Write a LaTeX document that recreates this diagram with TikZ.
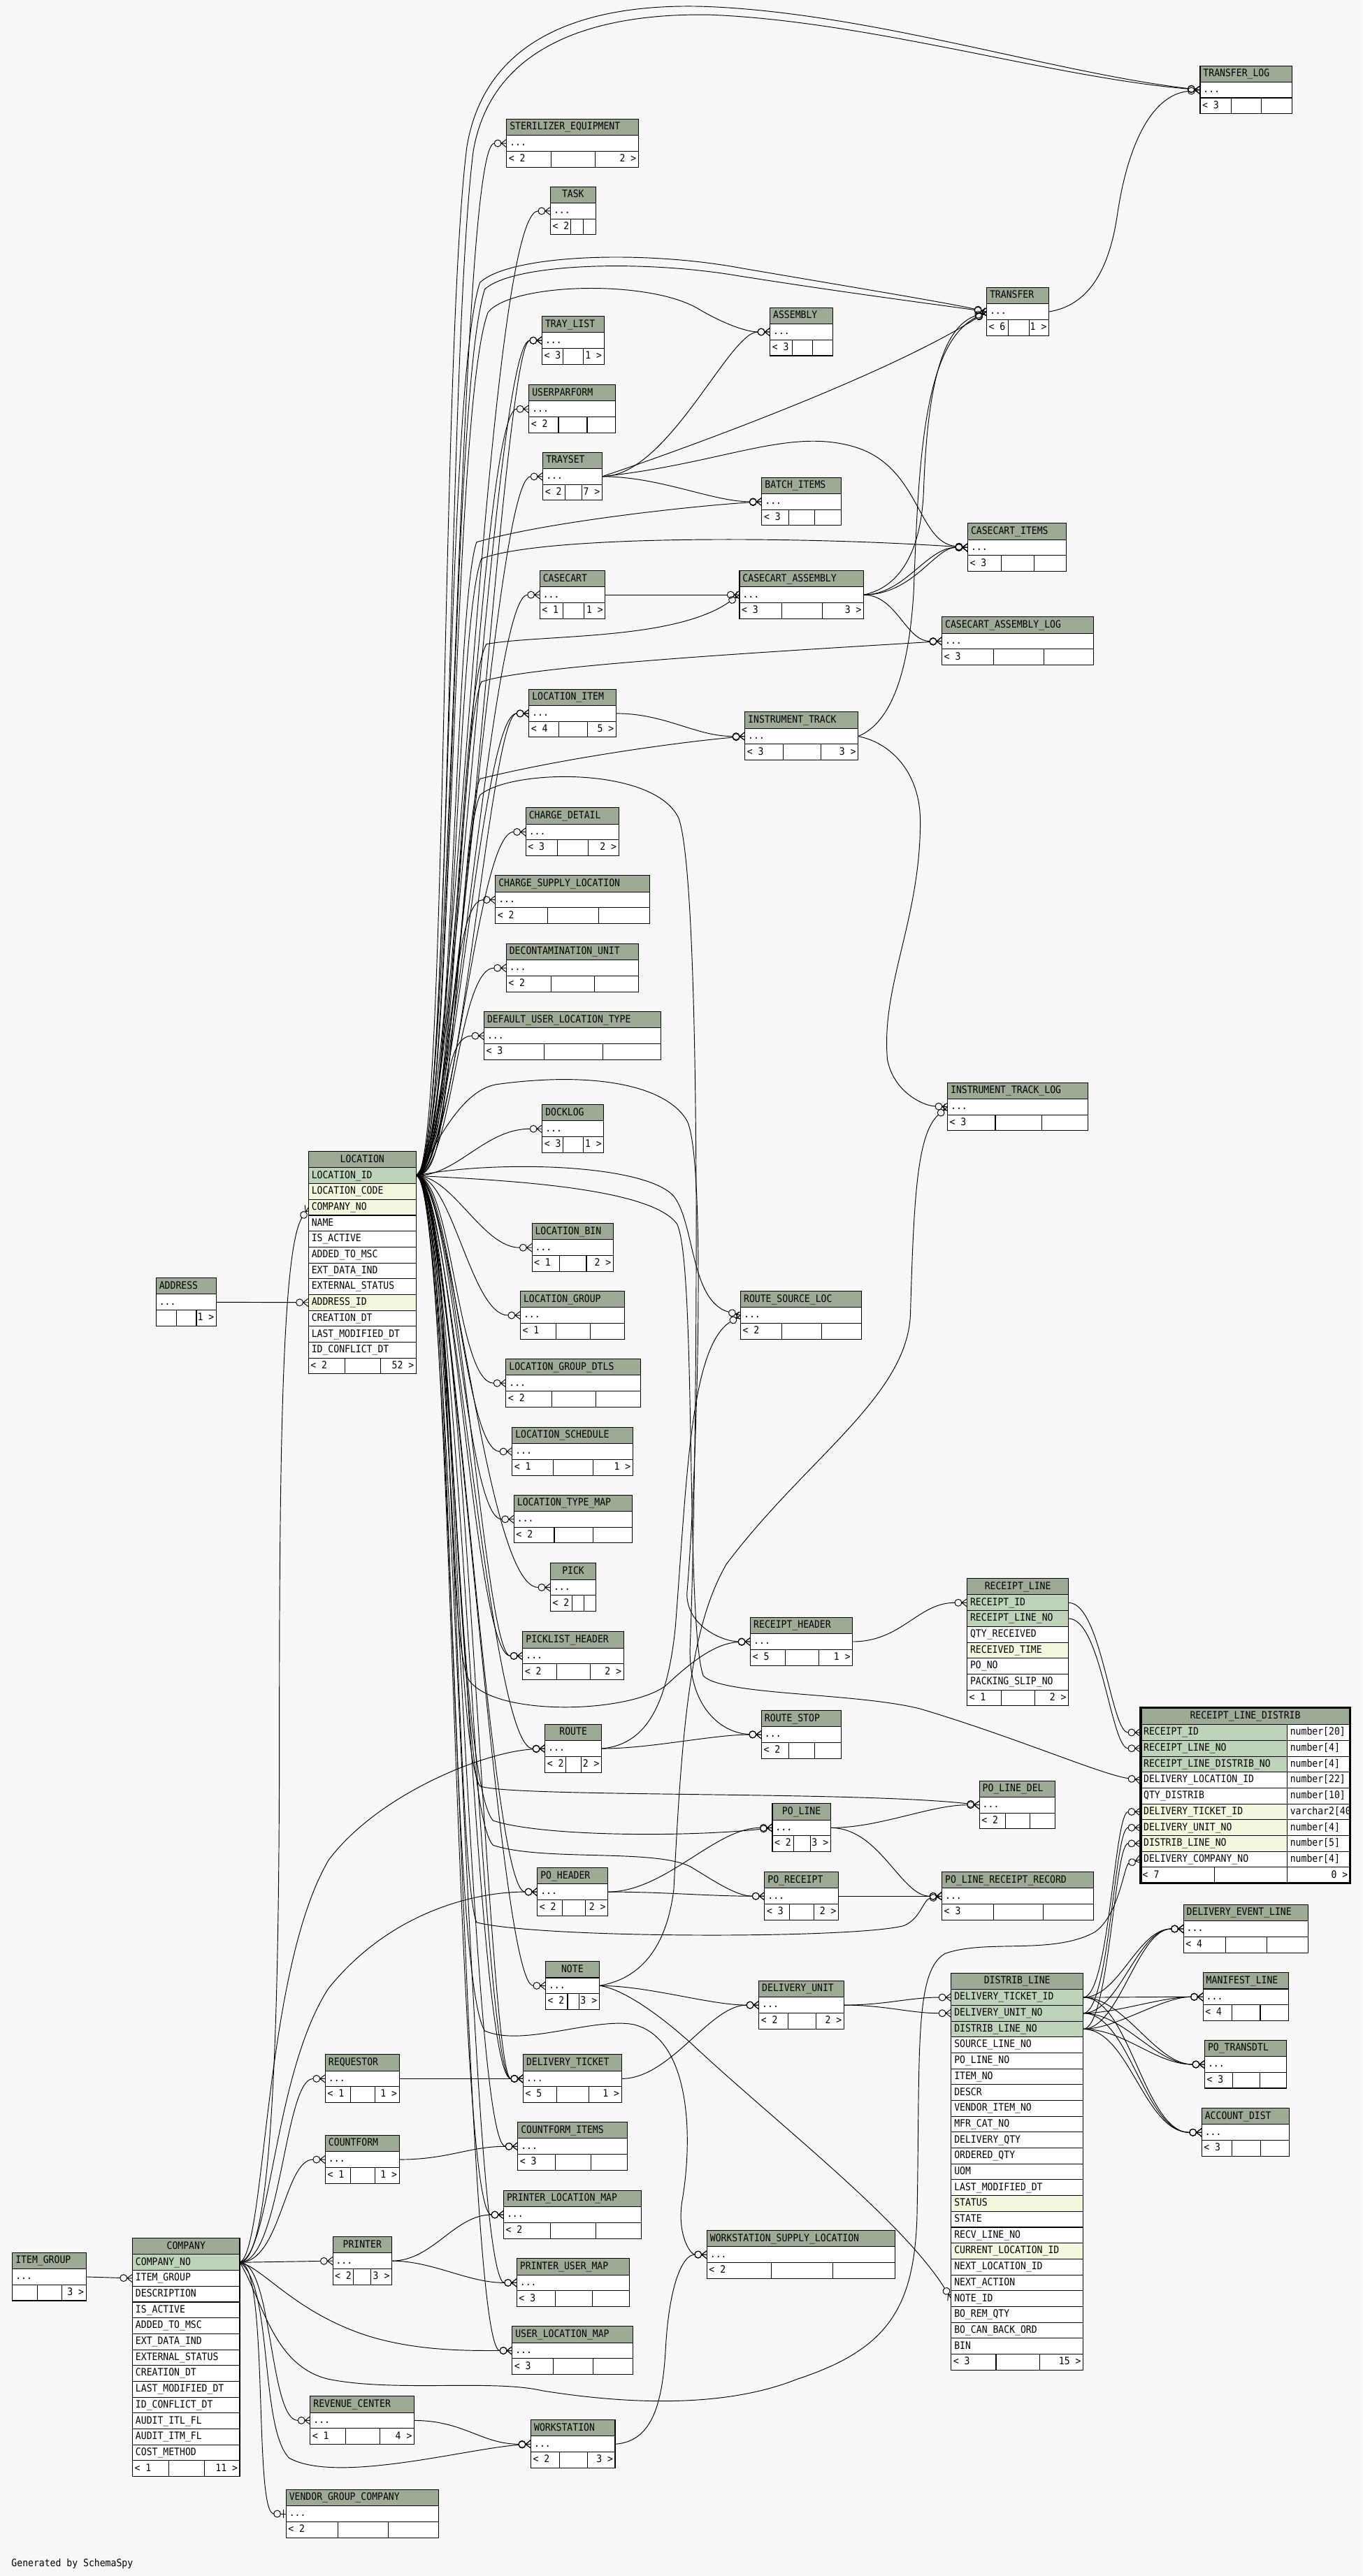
\documentclass[tikz,border=0pt]{standalone}
\usepackage{fontspec}
\newfontfamily\tblfont[FakeStretch=0.9]{DejaVu Sans Mono}
\usetikzlibrary{calc,arrows.meta}
\definecolor{hdrgreen}{RGB}{157,171,150}
\definecolor{pkgreen}{RGB}{191,211,187}
\definecolor{ixyellow}{RGB}{244,247,221}
\definecolor{bggray}{RGB}{247,247,247}
\newdimen\crowtmp
% zero-or-many end: circle and crow's foot
\pgfdeclarearrow{
  name = ZeroMany,
  parameters = {\the\pgfarrowlength,\the\pgfarrowwidth,\the\pgfarrowinset},
  setup code = {
    \crowtmp=\pgfarrowlength
    \advance\crowtmp by 2\pgfarrowinset
    \pgfarrowssettipend{0pt}
    \pgfarrowssetbackend{-\crowtmp}
    \pgfarrowssetlineend{-\crowtmp}
    \pgfarrowshullpoint{0pt}{.5\pgfarrowwidth}
    \pgfarrowshullpoint{0pt}{-.5\pgfarrowwidth}
    \pgfarrowshullpoint{-\crowtmp}{\pgfarrowinset}
    \pgfarrowshullpoint{-\crowtmp}{-\pgfarrowinset}
    \pgfarrowssavethe\pgfarrowlength
    \pgfarrowssavethe\pgfarrowwidth
    \pgfarrowssavethe\pgfarrowinset
  },
  drawing code = {
    \pgfsetdash{}{0pt}
    \pgfpathmoveto{\pgfqpoint{0pt}{.5\pgfarrowwidth}}
    \pgfpathlineto{\pgfqpoint{-\pgfarrowlength}{0pt}}
    \pgfpathlineto{\pgfqpoint{0pt}{-.5\pgfarrowwidth}}
    \pgfpathmoveto{\pgfqpoint{-\pgfarrowlength}{0pt}}
    \pgfpathlineto{\pgfqpoint{0pt}{0pt}}
    \pgfusepathqstroke
    \crowtmp=\pgfarrowlength
    \advance\crowtmp by \pgfarrowinset
    \pgfpathcircle{\pgfqpoint{-\crowtmp}{0pt}}{\pgfarrowinset}
    \pgfusepathqstroke
  },
  defaults = {length=3.3pt, width=5pt, inset=2.1pt}
}
% zero-or-one end: circle and bar
\pgfdeclarearrow{
  name = ZeroOne,
  parameters = {\the\pgfarrowlength,\the\pgfarrowwidth,\the\pgfarrowinset},
  setup code = {
    \crowtmp=\pgfarrowlength
    \advance\crowtmp by 2\pgfarrowinset
    \pgfarrowssettipend{0pt}
    \pgfarrowssetbackend{-\crowtmp}
    \pgfarrowssetlineend{-\crowtmp}
    \pgfarrowshullpoint{0pt}{.5\pgfarrowwidth}
    \pgfarrowshullpoint{0pt}{-.5\pgfarrowwidth}
    \pgfarrowshullpoint{-\crowtmp}{\pgfarrowinset}
    \pgfarrowshullpoint{-\crowtmp}{-\pgfarrowinset}
    \pgfarrowssavethe\pgfarrowlength
    \pgfarrowssavethe\pgfarrowwidth
    \pgfarrowssavethe\pgfarrowinset
  },
  drawing code = {
    \pgfsetdash{}{0pt}
    \pgfpathmoveto{\pgfqpoint{-\pgfarrowlength}{0pt}}
    \pgfpathlineto{\pgfqpoint{0pt}{0pt}}
    \pgfpathmoveto{\pgfqpoint{-.5\pgfarrowlength}{.5\pgfarrowwidth}}
    \pgfpathlineto{\pgfqpoint{-.5\pgfarrowlength}{-.5\pgfarrowwidth}}
    \pgfusepathqstroke
    \crowtmp=\pgfarrowlength
    \advance\crowtmp by \pgfarrowinset
    \pgfpathcircle{\pgfqpoint{-\crowtmp}{0pt}}{\pgfarrowinset}
    \pgfusepathqstroke
  },
  defaults = {length=3.3pt, width=5pt, inset=2.1pt}
}
\pgfdeclarelayer{canvas}
\pgfdeclarelayer{links}
\pgfsetlayers{canvas,links,main}
\tikzset{
  hdrbox/.style={draw, fill=hdrgreen, line width=0.45pt, minimum height=9.9pt, inner sep=0pt, outer sep=0pt},
  rowbox/.style={draw, fill=#1, line width=0.45pt, minimum height=9.65pt, inner sep=0pt, outer sep=0pt},
  rowbox/.default=white,
  txt/.style={font=\tblfont\fontsize{6.2}{7}\selectfont, inner xsep=1.7pt, inner ysep=0pt, text height=4.5pt, text depth=1.2pt},
  foottxt/.style={txt, inner xsep=1.1pt},
  tblline/.style={line width=0.45pt},
  fk/.style={line width=0.4pt, -{ZeroMany}},
  fkone/.style={line width=0.4pt, -{ZeroOne}},
  lnk/.style 2 args={out=0, in=180, out distance=#1, in distance=#2},
}
% footer cells: node, left text, right text, two divider fractions
\newcommand{\footcells}[5]{%
  \draw[tblline] ($(#1.north west)!#4!(#1.north east)$) -- ($(#1.south west)!#4!(#1.south east)$);
  \draw[tblline] ($(#1.north west)!#5!(#1.north east)$) -- ($(#1.south west)!#5!(#1.south east)$);
  \node[foottxt, anchor=west] (#1-l) at (#1.west) {#2};
  \node[foottxt, anchor=east] (#1-r) at (#1.east) {#3};}
% collapsed table: name, corner, width, title, footer texts, dividers, title anchor
\newcommand{\tbl}[9]{%
  \node[hdrbox, minimum width=#3pt, anchor=north west] (#1) at (#2) {};
  \node[txt, anchor=#9] (#1-t) at (#1.#9) {#4};
  \node[rowbox, minimum width=#3pt, anchor=north] (#1-b) at (#1.south) {};
  \node[txt, anchor=west] (#1-d) at (#1-b.west) {...};
  \node[rowbox, minimum width=#3pt, anchor=north] (#1-f) at (#1-b.south) {};
  \footcells{#1-f}{#5}{#6}{#7}{#8}}
% expanded table: name, corner, width, title, rows, row count, footer texts
\newcommand{\fulltbl}[8]{%
  \node[hdrbox, minimum width=#3pt, anchor=north west] (#1) at (#2) {};
  \node[txt] (#1-t) at (#1.center) {#4};
  \foreach \col/\kind [count=\i] in {#5} {
    \node[rowbox=\kind, minimum width=#3pt, anchor=north west] (#1-\i) at ($(#1.south west)+(0,{(\i-1)*9.65})$) {};
    \node[txt, anchor=west] (#1-\i-t) at (#1-\i.west) {\col};
  }
  \node[rowbox, minimum width=#3pt, anchor=north west] (#1-f) at ($(#1.south west)+(0,{#6*9.65})$) {};
  \footcells{#1-f}{#7}{#8}{.34}{.67}}

\begin{document}
\begin{tikzpicture}[x=1pt,y=-1pt]
\useasboundingbox (0,0) rectangle (829,1567.8);
\begin{pgfonlayer}{canvas}
  \fill[bggray] (0,0) rectangle (829,1567.8);
\end{pgfonlayer}

%%%%% TABLES %%%%%
\fulltbl{location}{187.7,700.8}{65.5}{LOCATION}{LOCATION\_ID/pkgreen, LOCATION\_CODE/ixyellow, COMPANY\_NO/ixyellow, NAME/white, IS\_ACTIVE/white, ADDED\_TO\_MSC/white, EXT\_DATA\_IND/white, EXTERNAL\_STATUS/white, ADDRESS\_ID/ixyellow, CREATION\_DT/white, LAST\_MODIFIED\_DT/white, ID\_CONFLICT\_DT/white}{12}{< 2}{52 >}
\fulltbl{company}{80.6,1362.2}{65.3}{COMPANY}{COMPANY\_NO/pkgreen, ITEM\_GROUP/white, DESCRIPTION/white, IS\_ACTIVE/white, ADDED\_TO\_MSC/white, EXT\_DATA\_IND/white, EXTERNAL\_STATUS/white, CREATION\_DT/white, LAST\_MODIFIED\_DT/white, ID\_CONFLICT\_DT/white, AUDIT\_ITL\_FL/white, AUDIT\_ITM\_FL/white, COST\_METHOD/white}{13}{< 1}{11 >}
\fulltbl{receiptline}{588.5,960.7}{61.7}{RECEIPT\_LINE}{RECEIPT\_ID/pkgreen, RECEIPT\_LINE\_NO/pkgreen, QTY\_RECEIVED/white, RECEIVED\_TIME/ixyellow, PO\_NO/white, PACKING\_SLIP\_NO/white}{6}{< 1}{2 >}
\fulltbl{distribline}{578.8,1200.9}{80.3}{DISTRIB\_LINE}{DELIVERY\_TICKET\_ID/pkgreen, DELIVERY\_UNIT\_NO/pkgreen, DISTRIB\_LINE\_NO/pkgreen, SOURCE\_LINE\_NO/white, PO\_LINE\_NO/white, ITEM\_NO/white, DESCR/white, VENDOR\_ITEM\_NO/white, MFR\_CAT\_NO/white, DELIVERY\_QTY/white, ORDERED\_QTY/white, UOM/white, LAST\_MODIFIED\_DT/white, STATUS/ixyellow, STATE/white, RECV\_LINE\_NO/white, CURRENT\_LOCATION\_ID/ixyellow, NEXT\_LOCATION\_ID/white, NEXT\_ACTION/white, NOTE\_ID/white, BO\_REM\_QTY/white, BO\_CAN\_BACK\_ORD/white, BIN/white}{23}{< 3}{15 >}

% the focus table, with column types
\begin{scope}
  \clip (694,1039.3) rectangle (821.5,1146.1);
  \node[hdrbox, minimum width=127.5pt, minimum height=10.3pt, anchor=north west] (rld) at (694,1039.3) {};
  \node[txt] (rld-t) at (rld.center) {RECEIPT\_LINE\_DISTRIB};
  \foreach \col/\kind/\typ [count=\i] in {RECEIPT\_ID/pkgreen/{number[20]}, RECEIPT\_LINE\_NO/pkgreen/{number[4]}, RECEIPT\_LINE\_DISTRIB\_NO/pkgreen/{number[4]}, DELIVERY\_LOCATION\_ID/white/{number[22]}, QTY\_DISTRIB/white/{number[10]}, DELIVERY\_TICKET\_ID/ixyellow/{varchar2[40]}, DELIVERY\_UNIT\_NO/ixyellow/{number[4]}, DISTRIB\_LINE\_NO/ixyellow/{number[5]}, DELIVERY\_COMPANY\_NO/white/{number[4]}} {
    \node[rowbox=\kind, minimum width=89.2pt, anchor=north west] (rld-\i) at ($(rld.south west)+(0,{(\i-1)*9.65})$) {};
    \node[txt, anchor=west] (rld-\i-t) at (rld-\i.west) {\col};
    \node[rowbox, minimum width=38.3pt, anchor=west] (rld-\i-y) at (rld-\i.east) {};
    \node[txt, anchor=west] (rld-\i-v) at (rld-\i-y.west) {\typ};
  }
  \node[rowbox, minimum width=127.5pt, anchor=north west] (rld-f) at ($(rld.south west)+(0,{9*9.65})$) {};
  \footcells{rld-f}{< 7}{0 >}{.353}{.70}
\end{scope}
\draw[line width=1.6pt] (rld.north west) rectangle (rld-f.south east);

\tbl{transferlog}{730.3,40.0}{55.8}{TRANSFER\_LOG}{< 3}{}{.34}{.67}{west}
\tbl{sterilizer}{308.3,72.5}{80.2}{STERILIZER\_EQUIPMENT}{< 2}{2 >}{.34}{.67}{west}
\tbl{task}{335.0,113.7}{27.4}{TASK}{< 2}{}{.45}{.73}{center}
\tbl{transfer}{600.4,175.0}{37.8}{TRANSFER}{< 6}{1 >}{.35}{.68}{west}
\tbl{assembly}{468.6,187.3}{38.1}{ASSEMBLY}{< 3}{}{.35}{.68}{west}
\tbl{traylist}{329.9,192.5}{37.6}{TRAY\_LIST}{< 3}{1 >}{.34}{.67}{west}
\tbl{userparform}{321.9,234.2}{52.8}{USERPARFORM}{< 2}{}{.34}{.67}{west}
\tbl{trayset}{330.4,275.3}{36.0}{TRAYSET}{< 2}{7 >}{.37}{.66}{west}
\tbl{batchitems}{463.6,290.6}{48.2}{BATCH\_ITEMS}{< 3}{}{.34}{.67}{west}
\tbl{casecartitems}{588.9,318.5}{60.1}{CASECART\_ITEMS}{< 3}{}{.34}{.67}{west}
\tbl{casecart}{328.5,347.3}{39.8}{CASECART}{< 1}{1 >}{.35}{.67}{west}
\tbl{casecartassembly}{450.0,347.3}{75.5}{CASECART\_ASSEMBLY}{< 3}{3 >}{.34}{.67}{west}
\tbl{ccalog}{573.2,375.5}{92.3}{CASECART\_ASSEMBLY\_LOG}{< 3}{}{.34}{.67}{west}
\tbl{locationitem}{321.9,419.5}{53.0}{LOCATION\_ITEM}{< 4}{5 >}{.34}{.67}{west}
\tbl{instrumenttrack}{453.3,433.4}{68.9}{INSTRUMENT\_TRACK}{< 3}{3 >}{.34}{.67}{west}
\tbl{chargedetail}{320.0,491.6}{56.5}{CHARGE\_DETAIL}{< 3}{2 >}{.34}{.67}{west}
\tbl{chargesupply}{301.5,532.9}{93.8}{CHARGE\_SUPPLY\_LOCATION}{< 2}{}{.34}{.67}{west}
\tbl{decon}{308.1,574.4}{80.3}{DECONTAMINATION\_UNIT}{< 2}{}{.34}{.67}{west}
\tbl{defaultuser}{294.6,615.7}{107.6}{DEFAULT\_USER\_LOCATION\_TYPE}{< 3}{}{.34}{.67}{west}
\tbl{docklog}{330.0,672.3}{37.4}{DOCKLOG}{< 3}{1 >}{.34}{.67}{west}
\tbl{itlog}{576.6,658.9}{85.5}{INSTRUMENT\_TRACK\_LOG}{< 3}{}{.34}{.67}{west}
\tbl{address}{95.0,777.8}{36.6}{ADDRESS}{}{1 >}{.34}{.67}{west}
\tbl{locationbin}{323.7,744.6}{49.5}{LOCATION\_BIN}{< 1}{2 >}{.34}{.67}{west}
\tbl{locationgroup}{316.7,785.8}{63.4}{LOCATION\_GROUP}{< 1}{}{.34}{.67}{west}
\tbl{routesource}{450.7,785.8}{73.6}{ROUTE\_SOURCE\_LOC}{< 2}{}{.34}{.67}{west}
\tbl{locgroupdtls}{307.9,827.1}{81.9}{LOCATION\_GROUP\_DTLS}{< 2}{}{.34}{.67}{west}
\tbl{locschedule}{311.7,868.7}{73.4}{LOCATION\_SCHEDULE}{< 1}{1 >}{.34}{.67}{west}
\tbl{loctypemap}{312.8,909.9}{72.0}{LOCATION\_TYPE\_MAP}{< 2}{}{.34}{.67}{west}
\tbl{pick}{335.0,951.4}{27.6}{PICK}{< 2}{}{.47}{.74}{center}
\tbl{picklist}{318.1,993.1}{61.4}{PICKLIST\_HEADER}{< 2}{2 >}{.34}{.67}{west}
\tbl{receiptheader}{456.7,984.4}{62.1}{RECEIPT\_HEADER}{< 5}{1 >}{.34}{.67}{west}
\tbl{route}{331.7,1049.5}{34.3}{ROUTE}{< 2}{2 >}{.37}{.645}{center}
\tbl{routestop}{463.4,1041.0}{48.4}{ROUTE\_STOP}{< 2}{}{.34}{.67}{west}
\tbl{polinedel}{596.0,1083.8}{46.1}{PO\_LINE\_DEL}{< 2}{}{.34}{.67}{west}
\tbl{poline}{470.0,1097.7}{35.4}{PO\_LINE}{< 2}{3 >}{.37}{.65}{center}
\tbl{poheader}{327.0,1136.7}{42.9}{PO\_HEADER}{< 2}{2 >}{.35}{.68}{west}
\tbl{poreceipt}{465.3,1139.3}{44.9}{PO\_RECEIPT}{< 3}{2 >}{.34}{.67}{west}
\tbl{polrr}{573.2,1139.3}{92.2}{PO\_LINE\_RECEIPT\_RECORD}{< 3}{}{.34}{.67}{west}
\tbl{deliveryeventline}{720.2,1159.2}{75.8}{DELIVERY\_EVENT\_LINE}{< 4}{}{.34}{.67}{west}
\tbl{note}{332.0,1193.8}{32.6}{NOTE}{< 2}{3 >}{.41}{.62}{center}
\tbl{deliveryunit}{461.8,1205.6}{51.7}{DELIVERY\_UNIT}{< 2}{2 >}{.34}{.67}{west}
\tbl{manifestline}{732.1,1200.6}{51.9}{MANIFEST\_LINE}{< 4}{}{.34}{.67}{west}
\tbl{potransdtl}{733.1,1241.7}{49.8}{PO\_TRANSDTL}{< 3}{}{.34}{.67}{west}
\tbl{accountdist}{731.3,1283.1}{53.4}{ACCOUNT\_DIST}{< 3}{}{.34}{.67}{west}
\tbl{requestor}{198.0,1250.4}{44.9}{REQUESTOR}{< 1}{1 >}{.34}{.67}{west}
\tbl{deliveryticket}{318.4,1250.4}{59.8}{DELIVERY\_TICKET}{< 5}{1 >}{.34}{.67}{west}
\tbl{countformitems}{315.1,1291.6}{66.7}{COUNTFORM\_ITEMS}{< 3}{}{.34}{.67}{west}
\tbl{countform}{198.0,1299.6}{44.9}{COUNTFORM}{< 1}{1 >}{.34}{.67}{west}
\tbl{printerlocmap}{306.5,1333.2}{83.6}{PRINTER\_LOCATION\_MAP}{< 2}{}{.34}{.67}{west}
\tbl{itemgroup}{7.6,1371.0}{44.8}{ITEM\_GROUP}{}{3 >}{.34}{.67}{west}
\tbl{printer}{202.5,1361.3}{35.9}{PRINTER}{< 2}{3 >}{.35}{.65}{center}
\tbl{printerusermap}{314.5,1374.6}{68.4}{PRINTER\_USER\_MAP}{< 3}{}{.34}{.67}{west}
\tbl{wsl}{430.2,1357.5}{114.6}{WORKSTATION\_SUPPLY\_LOCATION}{< 2}{}{.34}{.67}{west}
\tbl{userlocmap}{311.7,1415.9}{73.5}{USER\_LOCATION\_MAP}{< 3}{}{.34}{.67}{west}
\tbl{revenuecenter}{188.8,1458.4}{63.2}{REVENUE\_CENTER}{< 1}{4 >}{.34}{.67}{west}
\tbl{workstation}{323.1,1472.8}{51.2}{WORKSTATION}{< 2}{3 >}{.34}{.67}{west}
\tbl{vendorgroup}{174.1,1515.2}{92.8}{VENDOR\_GROUP\_COMPANY}{< 2}{}{.34}{.67}{west}

\node[txt, anchor=west] (credit) at (5.1,1560.2) {Generated by SchemaSpy};

%%%%% LINKS %%%%%
\begin{pgfonlayer}{links}
% from LOCATION.LOCATION_ID
\draw[fk] (location-1.east) .. controls (272,715) and (268,220) .. (284,90) .. controls (296,15) and (370,2) .. (430,4) .. controls (530,8) and (640,44) .. (transferlog-b.west);
\draw[fk] (location-1.east) .. controls (274,715) and (272,220) .. (288,92) .. controls (300,22) and (372,8) .. (432,9) .. controls (530,13) and (640,47) .. (transferlog-b.west);
\draw[fk] (location-1.east) to[lnk={22pt}{30pt}] (sterilizer-b.west);
\draw[fk] (location-1.east) to[lnk={22pt}{40pt}] (task-b.west);
\draw[fk] (location-1.east) .. controls (274,715) and (270,240) .. (292,172) .. controls (310,155) and (390,152) .. (450,163) .. controls (520,175) and (575,184) .. (transfer-b.west);
\draw[fk] (location-1.east) .. controls (276,715) and (273,245) .. (295,176) .. controls (313,160) and (392,158) .. (450,168) .. controls (520,179) and (575,186) .. (transfer-b.west);
\draw[fk] (location-1.east) .. controls (276,715) and (274,250) .. (297,190) .. controls (312,172) and (395,170) .. (425,188) .. controls (442,198) and (455,202) .. (assembly-b.west);
\draw[fk] (location-1.east) to[lnk={22pt}{30pt}] (traylist-b.west);
\draw[fk] (location-1.east) to[lnk={26pt}{24pt}] (traylist-b.west);
\draw[fk] (location-1.east) to[lnk={22pt}{30pt}] (userparform-b.west);
\draw[fk] (location-1.east) to[lnk={22pt}{30pt}] (trayset-b.west);
\draw[fk] (location-1.east) .. controls (276,715) and (276,370) .. (290,330) .. controls (330,318) and (420,308) .. (batchitems-b.west);
\draw[fk] (location-1.east) .. controls (276,715) and (277,380) .. (293,340) .. controls (330,326) and (480,326) .. (casecartitems-b.west);
\draw[fk] (location-1.east) to[lnk={22pt}{30pt}] (casecart-b.west);
\draw[fk] (location-1.east) .. controls (277,715) and (278,425) .. (296,392) .. controls (330,386) and (410,390) .. (casecartassembly-b.west);
\draw[fk] (location-1.east) .. controls (277,715) and (279,445) .. (293,415) .. controls (320,405) and (480,396) .. (ccalog-b.west);
\draw[fk] (location-1.east) to[lnk={22pt}{30pt}] (locationitem-b.west);
\draw[fk] (location-1.east) to[lnk={26pt}{24pt}] (locationitem-b.west);
\draw[fk] (location-1.east) .. controls (278,715) and (280,505) .. (292,474) .. controls (340,462) and (410,452) .. (instrumenttrack-b.west);
\draw[fk] (location-1.east) to[lnk={22pt}{30pt}] (chargedetail-b.west);
\draw[fk] (location-1.east) to[lnk={22pt}{30pt}] (chargesupply-b.west);
\draw[fk] (location-1.east) to[lnk={22pt}{30pt}] (decon-b.west);
\draw[fk] (location-1.east) to[lnk={22pt}{30pt}] (defaultuser-b.west);
\draw[fk] (location-1.east) to[lnk={25pt}{35pt}] (docklog-b.west);
\draw[fk] (location-1.east) .. controls (278,715) and (278,520) .. (292,484) .. controls (310,468) and (398,466) .. (413,498) .. controls (428,540) and (424,900) .. (420,1000) .. controls (418,1040) and (440,1055) .. (routestop-b.west);
\draw[fk] (location-1.east) .. controls (262,705) and (278,664) .. (302,660) .. controls (360,652) and (405,660) .. (418,682) .. controls (430,705) and (424,900) .. (418,970) .. controls (418,990) and (440,999) .. (receiptheader-b.west);
\draw[fk] (location-1.east) .. controls (300,706) and (392,708) .. (410,728) .. controls (423,745) and (420,792) .. (routesource-b.west);
\draw[fk] (location-1.east) .. controls (300,718) and (396,722) .. (412,745) .. controls (424,770) and (417,990) .. (428,1020) .. controls (440,1032) and (520,1030) .. (560,1040) .. controls (620,1058) and (670,1080) .. (rld-4.west);
\draw[fk] (location-1.east) to[lnk={22pt}{30pt}] (locationbin-b.west);
\draw[fk] (location-1.east) to[lnk={22pt}{30pt}] (locationgroup-b.west);
\draw[fk] (location-1.east) to[lnk={22pt}{30pt}] (locgroupdtls-b.west);
\draw[fk] (location-1.east) to[lnk={22pt}{30pt}] (locschedule-b.west);
\draw[fk] (location-1.east) to[lnk={22pt}{30pt}] (loctypemap-b.west);
\draw[fk] (location-1.east) to[lnk={22pt}{40pt}] (pick-b.west);
\draw[fk] (location-1.east) to[lnk={22pt}{30pt}] (picklist-b.west);
\draw[fk] (location-1.east) to[lnk={26pt}{24pt}] (picklist-b.west);
\draw[fk] (location-1.east) .. controls (276,715) and (270,990) .. (285,1022) .. controls (300,1045) and (382,1043) .. (405,1026) .. controls (420,1012) and (435,1000) .. (receiptheader-b.west);
\draw[fk] (location-1.east) to[lnk={22pt}{35pt}] (route-b.west);
\draw[fk] (location-1.east) .. controls (276,715) and (275,1060) .. (292,1087) .. controls (310,1094) and (520,1090) .. (polinedel-b.west);
\draw[fk] (location-1.east) .. controls (276,715) and (276,1080) .. (300,1108) .. controls (330,1118) and (420,1118) .. (poline-b.west);
\draw[fk] (location-1.east) to[lnk={22pt}{30pt}] (poheader-b.west);
\draw[fk] (location-1.east) .. controls (276,715) and (277,1098) .. (300,1123) .. controls (330,1133) and (398,1125) .. (420,1136) .. controls (435,1145) and (448,1154) .. (poreceipt-b.west);
\draw[fk] (location-1.east) .. controls (276,715) and (277,1140) .. (290,1170) .. controls (330,1180) and (520,1180) .. (550,1172) .. controls (560,1168) and (562,1156) .. (polrr-b.west);
\draw[fk] (location-1.east) to[lnk={22pt}{30pt}] (note-b.west);
\draw[fk] (location-1.east) to[lnk={22pt}{30pt}] (deliveryticket-b.west);
\draw[fk] (location-1.east) to[lnk={25pt}{26pt}] (deliveryticket-b.west);
\draw[fk] (location-1.east) to[lnk={28pt}{22pt}] (deliveryticket-b.west);
\draw[fk] (location-1.east) to[lnk={22pt}{30pt}] (countformitems-b.west);
\draw[fk] (location-1.east) to[lnk={22pt}{30pt}] (printerlocmap-b.west);
\draw[fk] (location-1.east) to[lnk={22pt}{30pt}] (printerusermap-b.west);
\draw[fk] (location-1.east) to[lnk={22pt}{30pt}] (userlocmap-b.west);
\draw[fk] (location-1.east) .. controls (276,715) and (272,1200) .. (295,1236) .. controls (318,1246) and (360,1228) .. (385,1232) .. controls (420,1240) and (422,1300) .. (415,1340) .. controls (412,1360) and (420,1372) .. (wsl-b.west);
% into LOCATION and COMPANY
\draw[fk] (company-1.east) .. controls (166,1376) and (170,1230) .. (170,1050) .. controls (170,880) and (172,760) .. (location-3.west);
\draw[fk] (address-b.east) -- (location-9.west);
\draw[fk] (itemgroup-b.east) -- (company-2.west);
% from COMPANY.COMPANY_NO
\draw[fk] (company-1.east) to[lnk={25pt}{25pt}] (requestor-b.west);
\draw[fk] (company-1.east) to[lnk={25pt}{25pt}] (countform-b.west);
\draw[fk] (company-1.east) -- (printer-b.west);
\draw[fk] (company-1.east) to[lnk={20pt}{25pt}] (revenuecenter-b.west);
\draw[fkone] (company-1.east) to[lnk={18pt}{20pt}] (vendorgroup-b.west);
\draw[fk] (company-1.east) .. controls (160,1380) and (180,1408) .. (225,1422) .. controls (255,1431) and (285,1430.6) .. (userlocmap-b.west);
\draw[fk] (company-1.east) .. controls (166,1390) and (158,1478) .. (176,1496) .. controls (205,1512) and (285,1490) .. (workstation-b.west);
\draw[fk] (company-1.east) .. controls (162,1370) and (160,1200) .. (200,1132) .. controls (230,1092) and (295,1066) .. (route-b.west);
\draw[fk] (company-1.east) .. controls (165,1372) and (166,1262) .. (200,1210) .. controls (238,1163) and (290,1151.4) .. (poheader-b.west);
\draw[fk] (company-1.east) .. controls (160,1400) and (166,1440) .. (200,1448) .. controls (240,1456) and (300,1448) .. (330,1455) .. controls (380,1463) and (440,1466) .. (485,1448) .. controls (540,1430) and (556,1405) .. (558,1350) .. controls (560,1250) and (556,1200) .. (575,1189) .. controls (600,1180) and (640,1190) .. (666,1176) .. controls (681,1166) and (684,1135) .. (rld-9.west);
% upper group
\draw[fk] (transfer-b.east) .. controls (662,186) and (675,165) .. (680,130) .. controls (686,90) and (700,58) .. (transferlog-b.west);
\draw[fk] (trayset-b.east) to[lnk={40pt}{25pt}] (assembly-b.west);
\draw[fk] (trayset-b.east) .. controls (420,272) and (540,228) .. (transfer-b.west);
\draw[fk] (trayset-b.east) .. controls (440,282) and (480,260) .. (520,272) .. controls (560,284) and (558,330) .. (casecartitems-b.west);
\draw[fk] (trayset-b.east) to[lnk={35pt}{30pt}] (batchitems-b.west);
\draw[fk] (casecart-b.east) -- (casecartassembly-b.west);
\draw[fk] (casecartassembly-b.east) .. controls (545,358) and (560,340) .. (562,300) .. controls (564,240) and (572,200) .. (transfer-b.west);
\draw[fk] (casecartassembly-b.east) to[lnk={25pt}{25pt}] (casecartitems-b.west);
\draw[fk] (casecartassembly-b.east) to[lnk={30pt}{20pt}] (casecartitems-b.west);
\draw[fk] (casecartassembly-b.east) to[lnk={20pt}{22pt}] (ccalog-b.west);
\draw[fk] (locationitem-b.east) to[lnk={30pt}{30pt}] (instrumenttrack-b.west);
\draw[fk] (instrumenttrack-b.east) .. controls (542,440) and (553,410) .. (556,360) .. controls (559,280) and (562,210) .. (transfer-b.west);
\draw[fk] (instrumenttrack-b.east) .. controls (542,452) and (560,470) .. (560,500) .. controls (560,560) and (536,600) .. (540,645) .. controls (544,665) and (562,673) .. (itlog-b.west);
% middle group
\draw[fk] (note-b.east) .. controls (386,1205) and (405,1190) .. (410,1150) .. controls (415,1050) and (420,990) .. (442,952) .. controls (490,888) and (552,850) .. (554,800) .. controls (556,730) and (558,690) .. (itlog-b.west);
\draw[fk] (note-b.east) to[lnk={30pt}{30pt}] (deliveryunit-b.west);
\draw[fk] (note-b.east) .. controls (378,1210) and (400,1225) .. (421,1244) .. controls (470,1290) and (548,1350) .. (distribline-20.west);
\draw[fk] (route-b.east) to[lnk={30pt}{30pt}] (routestop-b.west);
\draw[fk] (route-b.east) .. controls (392,1062) and (406,1040) .. (411,990) .. controls (418,900) and (420,820) .. (routesource-b.west);
\draw[fk] (receiptheader-b.east) to[lnk={30pt}{30pt}] (receiptline-1.west);
\draw[fk] (receiptline-1.east) to[lnk={20pt}{18pt}] (rld-1.west);
\draw[fk] (receiptline-2.east) to[lnk={20pt}{18pt}] (rld-2.west);
\draw[fk] (poline-b.east) to[lnk={30pt}{30pt}] (polinedel-b.west);
\draw[fk] (poline-b.east) to[lnk={30pt}{25pt}] (polrr-b.west);
\draw[fk] (poheader-b.east) to[lnk={35pt}{35pt}] (poline-b.west);
\draw[fk] (poheader-b.east) to[lnk={35pt}{35pt}] (poreceipt-b.west);
\draw[fk] (poreceipt-b.east) -- (polrr-b.west);
% lower group
\draw[fk] (requestor-b.east) -- (deliveryticket-b.west);
\draw[fk] (deliveryticket-b.east) to[lnk={30pt}{30pt}] (deliveryunit-b.west);
\draw[fk] (countform-b.east) to[lnk={30pt}{30pt}] (countformitems-b.west);
\draw[fk] (printer-b.east) to[lnk={25pt}{30pt}] (printerlocmap-b.west);
\draw[fk] (printer-b.east) to[lnk={25pt}{30pt}] (printerusermap-b.west);
\draw[fk] (revenuecenter-b.east) to[lnk={30pt}{30pt}] (workstation-b.west);
\draw[fk] (workstation-b.east) .. controls (396,1486) and (403,1465) .. (405,1430) .. controls (407,1392) and (415,1372.2) .. (wsl-b.west);
\draw[fk] (deliveryunit-b.east) to[lnk={25pt}{25pt}] (distribline-1.west);
\draw[fk] (deliveryunit-b.east) to[lnk={25pt}{25pt}] (distribline-2.west);
% from DISTRIB_LINE key
\foreach \k/\r in {1/6, 2/7, 3/8} {
  \draw[fk] (distribline-\k.east) to[lnk={16pt}{16pt}] (rld-\r.west);
}
\foreach \k in {1,2,3} {
  \draw[fk] (distribline-\k.east) to[lnk={22pt}{28pt}] (deliveryeventline-b.west);
  \draw[fk] (distribline-\k.east) to[lnk={20pt}{25pt}] (manifestline-b.west);
  \draw[fk] (distribline-\k.east) to[lnk={25pt}{30pt}] (potransdtl-b.west);
  \draw[fk] (distribline-\k.east) to[lnk={28pt}{35pt}] (accountdist-b.west);
}
\end{pgfonlayer}
\end{tikzpicture}
\end{document}
